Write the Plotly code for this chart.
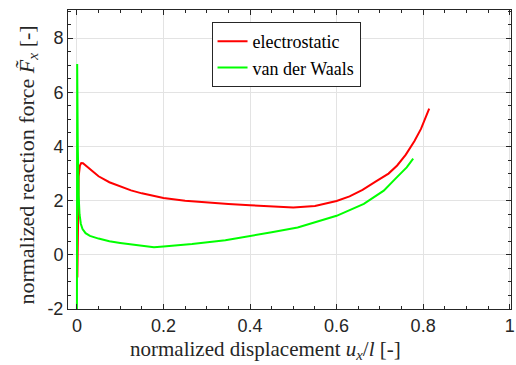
import plotly.graph_objects as go

# electrostatic
es_x = [0.001, 0.002, 0.004, 0.007, 0.010, 0.014, 0.02, 0.03, 0.05, 0.075, 0.1, 0.125, 0.15,
        0.2, 0.25, 0.3, 0.35, 0.4, 0.45, 0.5, 0.55, 0.6, 0.63, 0.66, 0.69, 0.72, 0.74, 0.76,
        0.78, 0.795, 0.814]
es_y = [-0.84, 1.2, 2.9, 3.3, 3.39, 3.38, 3.3, 3.15, 2.9, 2.68, 2.52, 2.38, 2.27,
        2.1, 2.0, 1.93, 1.88, 1.83, 1.79, 1.75, 1.8, 1.99, 2.16, 2.4, 2.7, 3.0, 3.3, 3.7,
        4.2, 4.65, 5.4]

# van der Waals
vdw_x = [0.0, 0.0006, 0.001, 0.002, 0.004, 0.006, 0.009, 0.013, 0.02, 0.03, 0.05, 0.075, 0.1,
         0.13, 0.155, 0.178, 0.2, 0.266, 0.343, 0.419, 0.45, 0.51, 0.6, 0.663, 0.709, 0.739,
         0.762, 0.777]
vdw_y = [-2.5, 7.05, 6.0, 4.0, 2.2, 1.5, 1.15, 0.95, 0.8, 0.7, 0.6, 0.5, 0.44,
         0.38, 0.33, 0.28, 0.31, 0.40, 0.54, 0.74, 0.83, 1.01, 1.44, 1.88, 2.37, 2.86,
         3.23, 3.55]

x_ticks = [0, 0.2, 0.4, 0.6, 0.8, 1]
x_labels = ["0", "0.2", "0.4", "0.6", "0.8", "1"]
y_ticks = [-2, 0, 2, 4, 6, 8]
y_labels = ["-2", "0", "2", "4", "6", "8"]

x_title = "normalized displacement <i>u<sub>x</sub></i>/<i>l</i> [-]"
y_title = "normalized reaction force <i>F̃<sub>x</sub></i> [-]"

fig = go.Figure()
fig.add_trace(go.Scatter(x=es_x, y=es_y, mode="lines", name="electrostatic",
                         line=dict(color="#ff0000", width=2)))
fig.add_trace(go.Scatter(x=vdw_x, y=vdw_y, mode="lines", name="van der Waals",
                         line=dict(color="#00ff00", width=2)))

axis_common = dict(
    showline=True, linecolor="#262626", linewidth=1, mirror="ticks",
    ticks="inside", ticklen=5, tickcolor="#262626", tickwidth=1,
    showgrid=True, gridcolor="#e3e3e3", gridwidth=1, zeroline=False,
    tickfont=dict(family="Liberation Sans, Arial", size=18, color="#262626"),
    ticklabeloverflow="allow",
)

title_font = dict(family="Liberation Serif, Times New Roman", size=21, color="#262626")

fig.update_layout(
    width=516, height=365,
    margin=dict(l=68, r=1, t=10, b=56),
    paper_bgcolor="white", plot_bgcolor="white",
    xaxis=dict(range=[-0.0206, 1.003], tickvals=x_ticks, ticktext=x_labels,
               minor=dict(dtick=0.05, tick0=0, ticks="inside", ticklen=3, tickcolor="#262626", showgrid=False),
               **axis_common),
    yaxis=dict(range=[-2, 9.04], tickvals=y_ticks, ticktext=y_labels,
               minor=dict(dtick=0.5, tick0=0, ticks="inside", ticklen=3, tickcolor="#262626", showgrid=False),
               **axis_common),
    legend=dict(x=0.324, y=0.96, xanchor="left", yanchor="top",
                bgcolor="white", bordercolor="#262626", borderwidth=1,
                font=dict(family="Liberation Serif, Times New Roman", size=18, color="#000000"),
                tracegroupgap=0, itemwidth=30),
    showlegend=True,
    annotations=[
        dict(text=x_title, xref="paper", yref="paper", x=0.445, y=-0.137,
             xanchor="center", yanchor="middle", showarrow=False, font=title_font),
        dict(text=y_title, xref="paper", yref="paper", x=-0.09, y=0.48,
             xanchor="center", yanchor="middle", textangle=-90, showarrow=False,
             font=dict(family="Liberation Serif, Times New Roman", size=22, color="#262626")),
    ],
)

fig.write_html("out.html")
